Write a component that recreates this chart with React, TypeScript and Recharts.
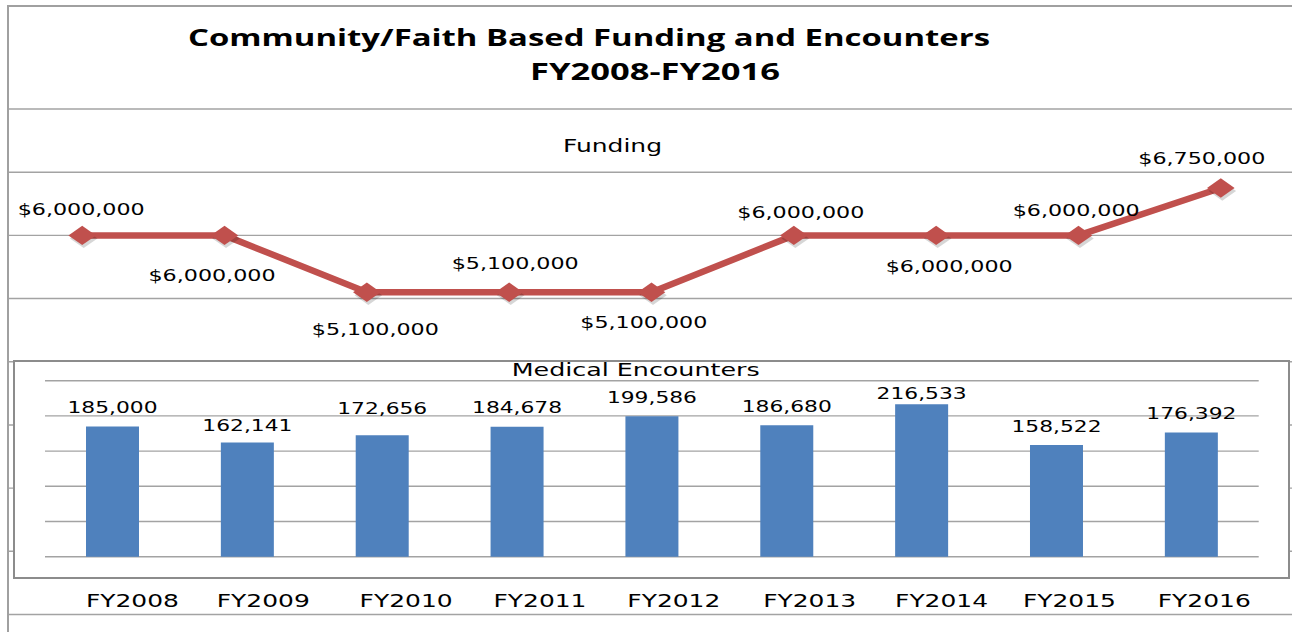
import React from 'react';
import { LineChart, Line, BarChart, Bar, XAxis, YAxis, CartesianGrid, LabelList } from 'recharts';

// ---- data ----
const years = ['FY2008', 'FY2009', 'FY2010', 'FY2011', 'FY2012', 'FY2013', 'FY2014', 'FY2015', 'FY2016'];
const funding = [6000000, 6000000, 5100000, 5100000, 5100000, 6000000, 6000000, 6000000, 6750000];
const encounters = [185000, 162141, 172656, 184678, 199586, 186680, 216533, 158522, 176392];
const fundingTicks = [0, 1000000, 2000000, 3000000, 4000000, 5000000, 6000000, 7000000, 8000000];
const encounterTicks = [0, 50000, 100000, 150000, 200000, 250000];

// ---- label placement (style only) ----
const fundingLabelOffsets: [number, number][] = [
  [-1, -20], [-12.5, 45.7], [8.5, 43], [6, -23], [-7.7, 36], [7, -17.3], [13, 37], [-2.3, -19.3], [-19, -24.3],
];
const barLabelGaps = [13, 11.6, 21.5, 13.4, 13, 13.3, 5.7, 13.3, 13.3];
const yearLabelShift = [20, 16, 24, 23, 22, 23, 20, 13, 13];

const rows = years.map((year, i) => ({ year, funding: funding[i], encounters: encounters[i] }));

const FONT = "'DejaVu Sans', Verdana, sans-serif";
const RED = '#C0504D';
const BLUE = '#4F81BD';
const GRID = '#a3a3a3';

const fmtMoney = (v: number) => '$' + v.toLocaleString('en-US');
const fmtNum = (v: number) => v.toLocaleString('en-US');

const Diamond = (props: any) => {
  const { cx, cy, index } = props;
  if (cx == null || cy == null) return null;
  const w = 13.8;
  const h = 9.7;
  const pts = (dx: number, dy: number) =>
    `${cx + dx},${cy - h + dy} ${cx + w + dx},${cy + dy} ${cx + dx},${cy + h + dy} ${cx - w + dx},${cy + dy}`;
  return (
    <g key={`dot-${index}`}>
      <polygon points={pts(1.5, 3)} fill="rgba(0,0,0,0.16)" />
      <polygon points={pts(0, 0)} fill={RED} />
    </g>
  );
};

const FundingLabel = (props: any) => {
  const { x, y, value, index } = props;
  const [dx, dy] = fundingLabelOffsets[index] || [0, -20];
  return (
    <text
      x={x + dx}
      y={y + dy}
      textAnchor="middle"
      fontFamily={FONT}
      fontSize={16}
      fill="#000"
      textLength={127}
      lengthAdjust="spacingAndGlyphs"
    >
      {fmtMoney(value)}
    </text>
  );
};

const BarValueLabel = (props: any) => {
  const { x, y, width, value, index } = props;
  const gap = barLabelGaps[index] ?? 13;
  return (
    <text
      x={x + width / 2}
      y={y - gap}
      textAnchor="middle"
      fontFamily={FONT}
      fontSize={16}
      fill="#000"
      textLength={90}
      lengthAdjust="spacingAndGlyphs"
    >
      {fmtNum(value)}
    </text>
  );
};

const YearTick = (props: any) => {
  const { x, y, payload, index } = props;
  const shift = yearLabelShift[index] ?? 19;
  return (
    <text
      x={x + shift}
      y={y + 50}
      textAnchor="middle"
      fontFamily={FONT}
      fontSize={17}
      fill="#000"
      textLength={93}
      lengthAdjust="spacingAndGlyphs"
    >
      {payload.value}
    </text>
  );
};

export default function App() {
  return (
    <div
      style={{
        position: 'absolute',
        left: 0,
        top: 0,
        width: 1292,
        height: 632,
        overflow: 'hidden',
        background: '#fff',
      }}
    >
      {/* outer (funding) chart */}
      <div style={{ position: 'absolute', left: 0, top: 0 }}>
        <LineChart width={1292} height={632} data={rows} margin={{ top: 109, right: 0, bottom: 17.5, left: 8 }}>
          <CartesianGrid vertical={false} stroke={GRID} strokeWidth={1.4} yAxisId="L" />
          <XAxis dataKey="year" hide padding={{ left: 74.2, right: 71.2 }} />
          <YAxis
            yAxisId="L"
            width={0}
            domain={[0, 8000000]}
            ticks={fundingTicks}
            mirror
            axisLine={false}
            tickSize={4}
            tickLine={{ stroke: GRID, strokeWidth: 1.4 }}
            tickFormatter={() => ''}
          />
          <YAxis
            yAxisId="R"
            orientation="right"
            width={0}
            domain={[0, 8000000]}
            ticks={fundingTicks}
            mirror
            axisLine={false}
            tickSize={3}
            tickLine={{ stroke: GRID, strokeWidth: 1.4 }}
            tickFormatter={() => ''}
          />
          <Line
            yAxisId="L"
            type="linear"
            dataKey="funding"
            stroke={RED}
            strokeWidth={6.5}
            strokeLinejoin="round"
            dot={<Diamond />}
            activeDot={false}
            isAnimationActive={false}
          >
            <LabelList dataKey="funding" content={<FundingLabel />} />
          </Line>
        </LineChart>
      </div>

      {/* outer frame */}
      <div
        style={{
          position: 'absolute',
          left: 7,
          top: 4.5,
          width: 1300,
          height: 640,
          borderLeft: '2px solid #a0a0a0',
          borderTop: '2px solid #a0a0a0',
          boxSizing: 'border-box',
        }}
      />

      {/* encounters box */}
      <div
        style={{
          position: 'absolute',
          left: 13,
          top: 359.5,
          width: 1277,
          height: 219.5,
          border: '2px solid #8c8c8c',
          background: '#fff',
          boxSizing: 'border-box',
        }}
      />

      {/* encounters chart */}
      <div style={{ position: 'absolute', left: 0, top: 0 }}>
        <BarChart width={1292} height={632} data={rows} margin={{ top: 380.7, right: 33.3, bottom: 15.3, left: 45 }}>
          <CartesianGrid vertical={false} stroke={GRID} strokeWidth={1.4} />
          <XAxis
            dataKey="year"
            height={60}
            axisLine={false}
            tickLine={false}
            tickSize={0}
            tickMargin={0}
            interval={0}
            tick={<YearTick />}
          />
          <YAxis
            width={0}
            domain={[0, 250000]}
            ticks={encounterTicks}
            axisLine={false}
            tickLine={false}
            tickFormatter={() => ''}
          />
          <Bar dataKey="encounters" fill={BLUE} barSize={53} isAnimationActive={false}>
            <LabelList dataKey="encounters" content={<BarValueLabel />} />
          </Bar>
        </BarChart>
      </div>

      {/* titles */}
      <svg
        width={1292}
        height={632}
        style={{ position: 'absolute', left: 0, top: 0, pointerEvents: 'none' }}
      >
        <text
          x={188}
          y={46}
          fontFamily="'Open Sans', 'DejaVu Sans', sans-serif"
          fontWeight={700}
          fontSize={23}
          fill="#000"
          textLength={802}
          lengthAdjust="spacingAndGlyphs"
        >
          Community/Faith Based Funding and Encounters
        </text>
        <text
          x={530}
          y={80}
          fontFamily="'Open Sans', 'DejaVu Sans', sans-serif"
          fontWeight={700}
          fontSize={23}
          fill="#000"
          textLength={250}
          lengthAdjust="spacingAndGlyphs"
        >
          FY2008-FY2016
        </text>
        <text
          x={563}
          y={152}
          fontFamily={FONT}
          fontSize={18}
          fill="#000"
          textLength={99}
          lengthAdjust="spacingAndGlyphs"
        >
          Funding
        </text>
        <text
          x={511.7}
          y={375.7}
          fontFamily={FONT}
          fontSize={18}
          fill="#000"
          textLength={248}
          lengthAdjust="spacingAndGlyphs"
        >
          Medical Encounters
        </text>
      </svg>
    </div>
  );
}
